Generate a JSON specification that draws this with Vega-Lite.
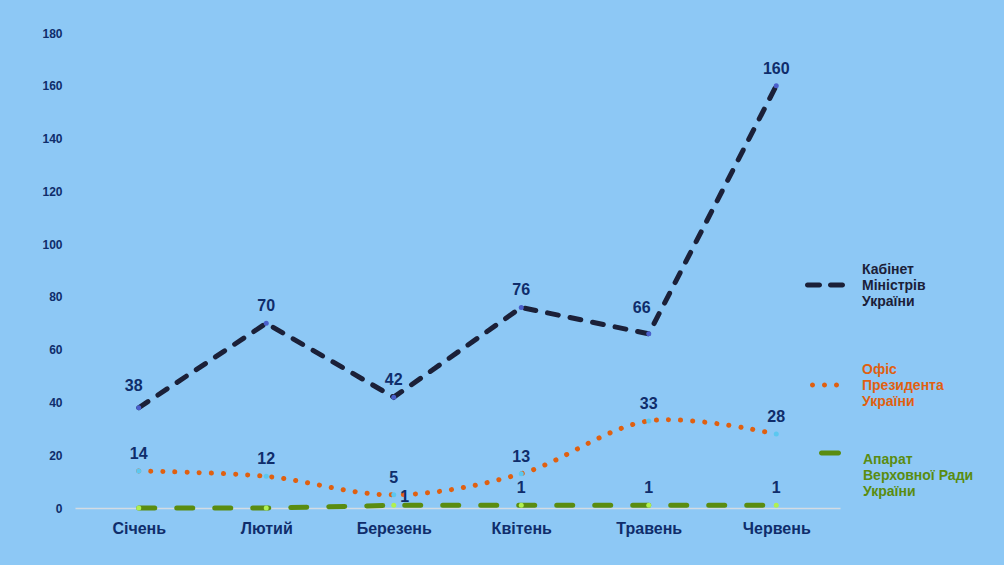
{
  "$schema": "https://vega.github.io/schema/vega-lite/v6.json",
  "description": "Monthly counts by body: Cabinet of Ministers, President's Office, Verkhovna Rada apparatus.",
  "width": 765,
  "height": 475,
  "autosize": "none",
  "padding": {"left": 75, "top": 33, "right": 164, "bottom": 57},
  "background": "#8dc8f5",
  "config": {
    "view": {"stroke": null},
    "font": "Liberation Sans",
    "legend": {"padding": 0, "title": null, "labelFontSize": 14, "labelFontWeight": "bold", "labelLimit": 200, "orient": "none"}
  },
  "data": {
    "values": [
      {"month": "Січень", "series": "Кабінет Міністрів України", "value": 38},
      {"month": "Лютий", "series": "Кабінет Міністрів України", "value": 70},
      {"month": "Березень", "series": "Кабінет Міністрів України", "value": 42},
      {"month": "Квітень", "series": "Кабінет Міністрів України", "value": 76},
      {"month": "Травень", "series": "Кабінет Міністрів України", "value": 66},
      {"month": "Червень", "series": "Кабінет Міністрів України", "value": 160},
      {"month": "Січень", "series": "Офіс Президента України", "value": 14},
      {"month": "Лютий", "series": "Офіс Президента України", "value": 12},
      {"month": "Березень", "series": "Офіс Президента України", "value": 5},
      {"month": "Квітень", "series": "Офіс Президента України", "value": 13},
      {"month": "Травень", "series": "Офіс Президента України", "value": 33},
      {"month": "Червень", "series": "Офіс Президента України", "value": 28},
      {"month": "Січень", "series": "Апарат Верховної Ради України", "value": 0},
      {"month": "Лютий", "series": "Апарат Верховної Ради України", "value": 0},
      {"month": "Березень", "series": "Апарат Верховної Ради України", "value": 1},
      {"month": "Квітень", "series": "Апарат Верховної Ради України", "value": 1},
      {"month": "Травень", "series": "Апарат Верховної Ради України", "value": 1},
      {"month": "Червень", "series": "Апарат Верховної Ради України", "value": 1}
    ]
  },
  "encoding": {
    "x": {
      "field": "month",
      "type": "nominal",
      "sort": null,
      "scale": {"type": "point", "padding": 0.5},
      "axis": {"title": null, "labelAngle": 0, "labelFontSize": 16, "labelFontWeight": "bold", "labelColor": "#0f2d6b", "labelPadding": 12, "ticks": false, "domainColor": "#d3dbe3", "domainWidth": 1.5, "grid": false}
    },
    "y": {
      "field": "value",
      "type": "quantitative",
      "scale": {"domain": [0, 180], "nice": false},
      "axis": {"title": null, "values": [0, 20, 40, 60, 80, 100, 120, 140, 160, 180], "labelFontSize": 12, "labelFontWeight": "bold", "labelColor": "#0f2d6b", "labelPadding": 13, "ticks": false, "domain": false, "grid": false}
    }
  },
  "layer": [
    {
      "transform": [{"filter": "datum.series == 'Кабінет Міністрів України'"}],
      "layer": [
        {
          "mark": {"type": "line", "strokeWidth": 5, "strokeDash": [11, 12], "strokeCap": "round"},
          "encoding": {
            "color": {
              "field": "series", "type": "nominal",
              "scale": {"range": ["#1b2038"]},
              "legend": {
                "legendX": 730, "legendY": 217,
                "symbolType": "M-0.875,0.625 L-0.275,0.625 A0.125,0.125 0 0 1 -0.275,0.875 L-0.875,0.875 A0.125,0.125 0 0 1 -0.875,0.625 Z M0.275,0.625 L0.875,0.625 A0.125,0.125 0 0 1 0.875,0.875 L0.275,0.875 A0.125,0.125 0 0 1 0.275,0.625 Z",
                "symbolSize": 1600, "symbolFillColor": "#1b2038", "symbolStrokeWidth": 0,
                "labelOffset": 17, "labelColor": "#1b2038",
                "labelExpr": "split(datum.label, ' ')"
              }
            }
          }
        },
        {"mark": {"type": "circle", "size": 25, "color": "#4a5fcc", "opacity": 1}},
        {
          "transform": [{"filter": "datum.month != 'Січень' && datum.month != 'Травень'"}],
          "mark": {"type": "text", "fontSize": 16, "fontWeight": "bold", "color": "#0f2d6b", "dy": -17},
          "encoding": {"text": {"field": "value", "type": "quantitative"}}
        },
        {
          "transform": [{"filter": "datum.month == 'Січень'"}],
          "mark": {"type": "text", "fontSize": 16, "fontWeight": "bold", "color": "#0f2d6b", "dx": -5, "dy": -22},
          "encoding": {"text": {"field": "value", "type": "quantitative"}}
        },
        {
          "transform": [{"filter": "datum.month == 'Травень'"}],
          "mark": {"type": "text", "fontSize": 16, "fontWeight": "bold", "color": "#0f2d6b", "dx": -7, "dy": -26},
          "encoding": {"text": {"field": "value", "type": "quantitative"}}
        }
      ]
    },
    {
      "transform": [{"filter": "datum.series == 'Офіс Президента України'"}],
      "layer": [
        {
          "mark": {"type": "line", "strokeWidth": 5, "strokeDash": [0.1, 12], "strokeCap": "round", "interpolate": "catmull-rom"},
          "encoding": {
            "color": {
              "field": "series", "type": "nominal",
              "scale": {"range": ["#e06010"]},
              "legend": {
                "legendX": 729.5, "legendY": 317,
                "symbolType": "M-0.725,0.75 A0.125,0.125 0 1 0 -0.475,0.75 A0.125,0.125 0 1 0 -0.725,0.75 Z M-0.125,0.75 A0.125,0.125 0 1 0 0.125,0.75 A0.125,0.125 0 1 0 -0.125,0.75 Z M0.475,0.75 A0.125,0.125 0 1 0 0.725,0.75 A0.125,0.125 0 1 0 0.475,0.75 Z",
                "symbolSize": 1600, "symbolFillColor": "#e06010", "symbolStrokeWidth": 0,
                "labelOffset": 17.5, "labelColor": "#e06010",
                "labelExpr": "split(datum.label, ' ')"
              }
            }
          }
        },
        {"mark": {"type": "circle", "size": 25, "color": "#5bc8f0", "opacity": 1}},
        {
          "mark": {"type": "text", "fontSize": 16, "fontWeight": "bold", "color": "#0f2d6b", "dy": -17},
          "encoding": {"text": {"field": "value", "type": "quantitative"}}
        }
      ]
    },
    {
      "transform": [{"filter": "datum.series == 'Апарат Верховної Ради України'"}],
      "layer": [
        {
          "mark": {"type": "line", "strokeWidth": 5, "strokeDash": [16, 22], "strokeCap": "round"},
          "encoding": {
            "color": {
              "field": "series", "type": "nominal",
              "scale": {"range": ["#5a8c10"]},
              "legend": {
                "legendX": 735, "legendY": 400,
                "symbolType": "M-0.425,-0.125 L0.425,-0.125 A0.125,0.125 0 0 1 0.425,0.125 L-0.425,0.125 A0.125,0.125 0 0 1 -0.425,-0.125 Z",
                "symbolSize": 1600, "symbolFillColor": "#5a8c10", "symbolStrokeWidth": 0,
                "labelOffset": 13, "labelColor": "#5a8c10", "labelBaseline": "top",
                "labelExpr": "['Апарат', 'Верховної Ради', 'України']"
              }
            }
          }
        },
        {"mark": {"type": "circle", "size": 25, "color": "#b0f050", "opacity": 1}},
        {
          "transform": [{"filter": "datum.value > 0 && datum.month != 'Березень'"}],
          "mark": {"type": "text", "fontSize": 16, "fontWeight": "bold", "color": "#0f2d6b", "dy": -17},
          "encoding": {"text": {"field": "value", "type": "quantitative"}}
        },
        {
          "transform": [{"filter": "datum.month == 'Березень'"}],
          "mark": {"type": "text", "fontSize": 16, "fontWeight": "bold", "color": "#0f2d6b", "dx": 11, "dy": -8},
          "encoding": {"text": {"field": "value", "type": "quantitative"}}
        }
      ]
    }
  ],
  "resolve": {"scale": {"color": "independent"}}
}
